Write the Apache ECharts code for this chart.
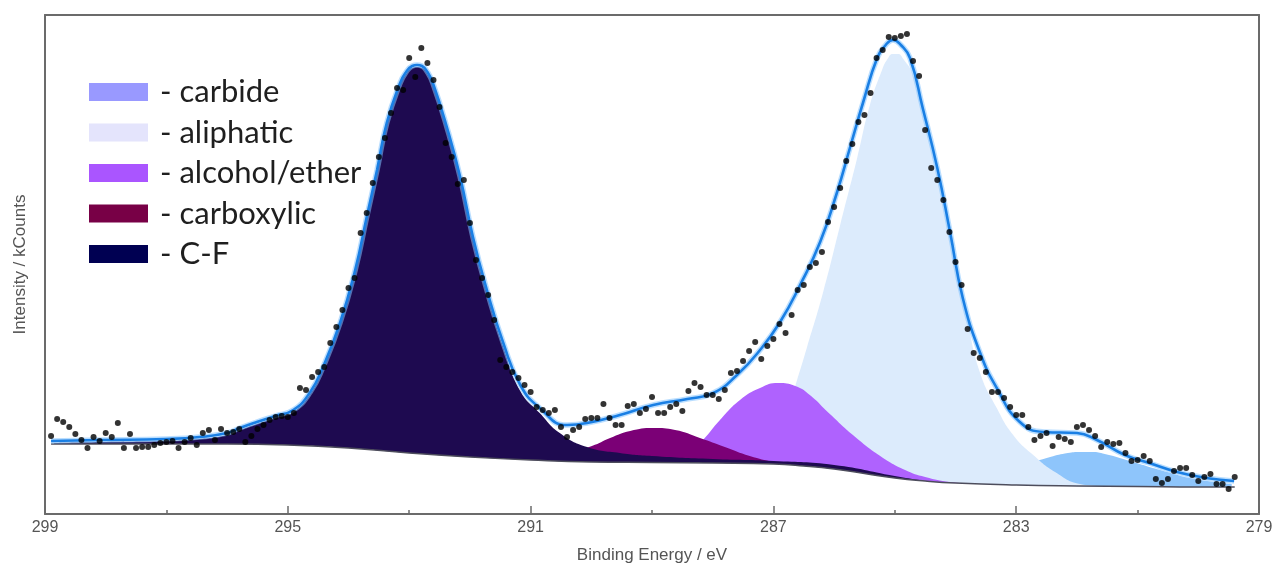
<!DOCTYPE html>
<html>
<head>
<meta charset="utf-8">
<script src="https://cdn.jsdelivr.net/npm/echarts@6/dist/echarts.min.js"></script>
<style>
  html, body { margin: 0; padding: 0; background: #ffffff; }
  #chart { width: 1275px; height: 565px; }
</style>
</head>
<body>
<div id="chart"></div>
<script>
// C 1s spectrum: measured counts, Shirley background, fitted components and envelope.

// Binding-energy axis (eV)
const energyTicks = [299, 295, 291, 287, 283, 279];
const minorEnergyTicks = [297, 293, 289, 285, 281];

// Measured counts, 0.1 eV steps from 298.9 eV down to 279.4 eV
const scanStartEV = 298.9;
const scanStepEV = 0.1;
const measuredCounts = [
  78, 95, 92, 87, 80, 74, 66, 77, 73, 81,
  77, 91, 66, 80, 66, 67, 67, 69, 71, 72,
  73, 66, 72, 76, 69, 81, 84, 74, 85, 81,
  82, 85, 72, 78, 85, 89, 94, 97, 98, 97,
  101, 126, 124, 137, 142, 147, 171, 187, 204, 226,
  236, 281, 301, 331, 357, 376, 401, 426, 424, 456,
  437, 466, 451, 434, 407, 371, 357, 330, 334, 291,
  254, 236, 219, 194, 154, 147, 142, 136, 129, 122,
  107, 104, 101, 104, 87, 77, 84, 87, 95, 96,
  96, 110, 96, 89, 89, 108, 110, 101, 105, 117,
  101, 101, 107, 110, 103, 123, 131, 127, 119, 119,
  115, 124, 141, 143, 153, 163, 172, 155, 168, 175,
  190, 181, 199, 224, 229, 247, 251, 262, 292, 307,
  326, 353, 370, 392, 399, 421, 456, 464, 477, 476,
  478, 480, 453, 438, 384, 346, 334, 314, 282, 252,
  229, 185, 161, 156, 142, 122, 122, 116, 107, 99,
  99, 87, 74, 78, 81, 68, 77, 75, 72, 87,
  89, 84, 78, 67, 72, 70, 71, 61, 53, 54,
  58, 53, 35, 31, 35, 43, 46, 46, 39, 33,
  37, 40, 30, 30, 25, 37
];

// Shirley background [eV, counts]
const backgroundFit = [
  [298.9, 70], [296.0, 70], [295.0, 69], [294.0, 66], [293.0, 61], [292.0, 57],
  [291.0, 54], [290.0, 52], [289.0, 51.5], [288.0, 51], [287.0, 50], [286.5, 48],
  [286.0, 45], [285.5, 40.5], [285.0, 36], [284.5, 33], [284.0, 31], [283.0, 29],
  [282.0, 28], [281.0, 27.5], [280.0, 27], [279.4, 27]
];

// Fitted components (background included) [eV, counts]
const carbideFit = [
  [284.6, 33], [284.26, 34], [283.76, 36], [283.27, 41], [282.86, 49], [282.44, 57],
  [282.15, 61], [281.95, 62], [281.75, 62], [281.54, 60], [281.13, 53], [280.63, 44],
  [280.14, 36], [279.73, 32], [279.45, 30]
];
const aliphaticFit = [
  [287.63, 50], [287.22, 52], [287.06, 62], [286.89, 82], [286.61, 134], [286.45, 166],
  [286.18, 222], [285.90, 289], [285.62, 356], [285.41, 409], [285.21, 444], [285.12, 455],
  [285.03, 460], [284.95, 460], [284.86, 455], [284.70, 439], [284.47, 389], [284.26, 329],
  [284.04, 262], [283.81, 196], [283.60, 142], [283.32, 106], [283.05, 79], [282.72, 59],
  [282.36, 42], [281.95, 30], [281.62, 28]
];
const alcoholFit = [
  [289.0, 51.5], [288.87, 52], [288.37, 62], [288.16, 74], [287.88, 94], [287.55, 114],
  [287.22, 126], [286.92, 131], [286.64, 128], [286.40, 119], [286.07, 100], [285.69, 79],
  [285.24, 58], [284.83, 44], [284.50, 37], [284.09, 32], [283.68, 30]
];
const carboxylicFit = [
  [290.9, 53], [290.85, 54], [290.35, 62], [289.99, 68], [289.69, 76], [289.36, 83],
  [288.98, 86], [288.62, 84], [288.21, 76], [287.80, 67], [287.39, 58], [286.99, 52],
  [286.7, 49]
];
const cfFit = [
  [298.85, 71], [298.09, 72], [297.01, 73], [296.45, 75], [296.0, 79], [295.79, 84],
  [295.51, 90], [295.21, 96], [294.91, 102], [294.63, 120], [294.42, 145], [294.14, 189],
  [293.89, 242], [293.70, 295], [293.53, 342], [293.37, 389], [293.15, 429], [293.05, 440],
  [292.95, 446], [292.87, 447], [292.79, 446], [292.70, 440], [292.61, 429], [292.38, 385],
  [292.16, 335], [291.95, 274], [291.72, 221], [291.45, 167], [291.17, 123], [290.85, 101],
  [290.52, 81], [290.07, 67], [289.53, 61], [289.0, 58], [288.0, 55], [287.0, 53],
  [286.0, 49], [285.0, 38], [284.5, 33]
];

// Fit envelope [eV, counts]
const envelopeFit = [
  [298.9, 73], [298.09, 74], [297.01, 75], [296.45, 77], [296.0, 81], [295.79, 86],
  [295.51, 92], [295.21, 98], [294.91, 104], [294.63, 122], [294.42, 147], [294.14, 191],
  [293.89, 244], [293.70, 297], [293.53, 344], [293.37, 391], [293.15, 431], [293.05, 442],
  [292.95, 448], [292.87, 449], [292.79, 448], [292.70, 442], [292.61, 431], [292.38, 387],
  [292.16, 337], [291.95, 277], [291.72, 224], [291.45, 171], [291.17, 129], [290.85, 106],
  [290.40, 89], [290.07, 91], [289.53, 99], [288.98, 109], [288.42, 115], [287.99, 121],
  [287.60, 139], [287.22, 164], [286.89, 192], [286.56, 229], [286.23, 272], [285.95, 322],
  [285.74, 366], [285.52, 412], [285.29, 456], [285.15, 469], [285.03, 474], [284.90, 469],
  [284.75, 456], [284.54, 406], [284.30, 346], [284.09, 282], [283.88, 216], [283.60, 162],
  [283.32, 126], [282.94, 92], [282.54, 82], [282.00, 81], [281.67, 74], [281.21, 59],
  [280.81, 51], [280.35, 42], [279.87, 36], [279.41, 33]
];

// Component names and colours (legend swatch, plot fill), drawn bottom to top
const componentNames = ['carbide', 'aliphatic', 'alcohol/ether', 'carboxylic', 'C-F'];
const componentData = [carbideFit, aliphaticFit, alcoholFit, carboxylicFit, cfFit];
const swatchColors = ['#9999ff', '#e4e4fc', '#aa55ff', '#780046', '#000052'];
const fillColors = ['#8ec5fb', '#dcebfc', '#af62fe', '#7b0076', '#1e0a50'];

const measuredPoints = measuredCounts.map((c, i) => [
  Math.round((scanStartEV - i * scanStepEV) * 100) / 100, c
]);

const axisGray = '#6b6b6b';
const labelGray = '#555555';
const curveSmooth = 0.5;

const componentSeries = componentNames.map((name, i) => ({
  name: name,
  type: 'line',
  data: componentData[i],
  smooth: curveSmooth,
  symbol: 'none',
  lineStyle: { width: 0, opacity: 0 },
  itemStyle: { color: fillColors[i] },
  areaStyle: { color: fillColors[i], opacity: 1, origin: 'start' },
  silent: true,
  z: 2
}));

const chart = echarts.init(document.getElementById('chart'), null, { renderer: 'canvas' });

chart.setOption({
  animation: false,
  backgroundColor: '#ffffff',
  grid: { left: 45, right: 16, top: 15, bottom: 51, containLabel: false, outerBoundsMode: 'none' },
  legend: {
    orient: 'vertical',
    left: 89,
    top: 74,
    padding: 0,
    itemWidth: 59,
    itemHeight: 18,
    itemGap: 4.5,
    selectedMode: false,
    formatter: '- {name}',
    textStyle: {
      fontFamily: 'Lato',
      fontSize: 31,
      lineHeight: 36,
      color: '#1f1f1f',
      padding: [0, 0, 0, 7]
    },
    data: componentNames.map((name, i) => ({
      name: name,
      icon: 'rect',
      itemStyle: { color: swatchColors[i], borderWidth: 0 }
    }))
  },
  xAxis: [
    {
      type: 'value',
      min: 279,
      max: 299,
      inverse: true,
      z: 6,
      name: 'Binding Energy / eV',
      nameLocation: 'middle',
      nameGap: 33,
      nameTextStyle: { fontFamily: 'Liberation Sans', fontSize: 17, color: labelGray },
      axisLine: { show: true, onZero: false, lineStyle: { color: axisGray, width: 2 } },
      axisTick: { show: true, inside: true, length: 8, customValues: energyTicks,
                  lineStyle: { color: axisGray, width: 1.5 } },
      axisLabel: { show: true, customValues: energyTicks, margin: 6,
                   fontFamily: 'Liberation Sans', fontSize: 16, color: labelGray },
      splitLine: { show: false }
    },
    {
      type: 'value',
      min: 279,
      max: 299,
      inverse: true,
      position: 'bottom',
      z: 6,
      axisLine: { show: false },
      axisTick: { show: true, inside: true, length: 4, customValues: minorEnergyTicks,
                  lineStyle: { color: axisGray, width: 1.5 } },
      axisLabel: { show: false },
      splitLine: { show: false }
    },
    {
      type: 'value',
      min: 279,
      max: 299,
      inverse: true,
      position: 'top',
      z: 6,
      axisLine: { show: true, onZero: false, lineStyle: { color: axisGray, width: 2 } },
      axisTick: { show: false },
      axisLabel: { show: false },
      splitLine: { show: false }
    }
  ],
  yAxis: [
    {
      type: 'value',
      min: 0,
      max: 499,
      z: 6,
      name: 'Intensity / kCounts',
      nameLocation: 'middle',
      nameRotate: 90,
      nameGap: 16,
      nameTextStyle: { fontFamily: 'Liberation Sans', fontSize: 17, color: labelGray },
      axisLine: { show: true, onZero: false, lineStyle: { color: axisGray, width: 2 } },
      axisTick: { show: false },
      axisLabel: { show: false },
      splitLine: { show: false }
    },
    {
      type: 'value',
      min: 0,
      max: 499,
      position: 'right',
      z: 6,
      axisLine: { show: true, onZero: false, lineStyle: { color: axisGray, width: 2 } },
      axisTick: { show: false },
      axisLabel: { show: false },
      splitLine: { show: false }
    }
  ],
  series: componentSeries.concat([
    {
      name: 'background',
      type: 'line',
      data: backgroundFit,
      smooth: curveSmooth,
      symbol: 'none',
      lineStyle: { color: '#4d4d5c', width: 1.5 },
      areaStyle: { color: '#ffffff', opacity: 1, origin: 'start' },
      silent: true,
      z: 3
    },
    {
      name: 'envelope halo',
      type: 'line',
      data: envelopeFit,
      smooth: curveSmooth,
      symbol: 'none',
      lineStyle: { color: 'rgba(130, 195, 255, 0.55)', width: 5.5 },
      silent: true,
      z: 4
    },
    {
      name: 'envelope',
      type: 'line',
      data: envelopeFit,
      smooth: curveSmooth,
      symbol: 'none',
      lineStyle: { color: '#1a7fe4', width: 2.6 },
      silent: true,
      z: 4
    },
    {
      name: 'measured',
      type: 'scatter',
      data: measuredPoints,
      symbol: 'circle',
      symbolSize: 6,
      itemStyle: { color: '#000000' },
      silent: true,
      z: 5
    }
  ])
});
</script>
</body>
</html>
